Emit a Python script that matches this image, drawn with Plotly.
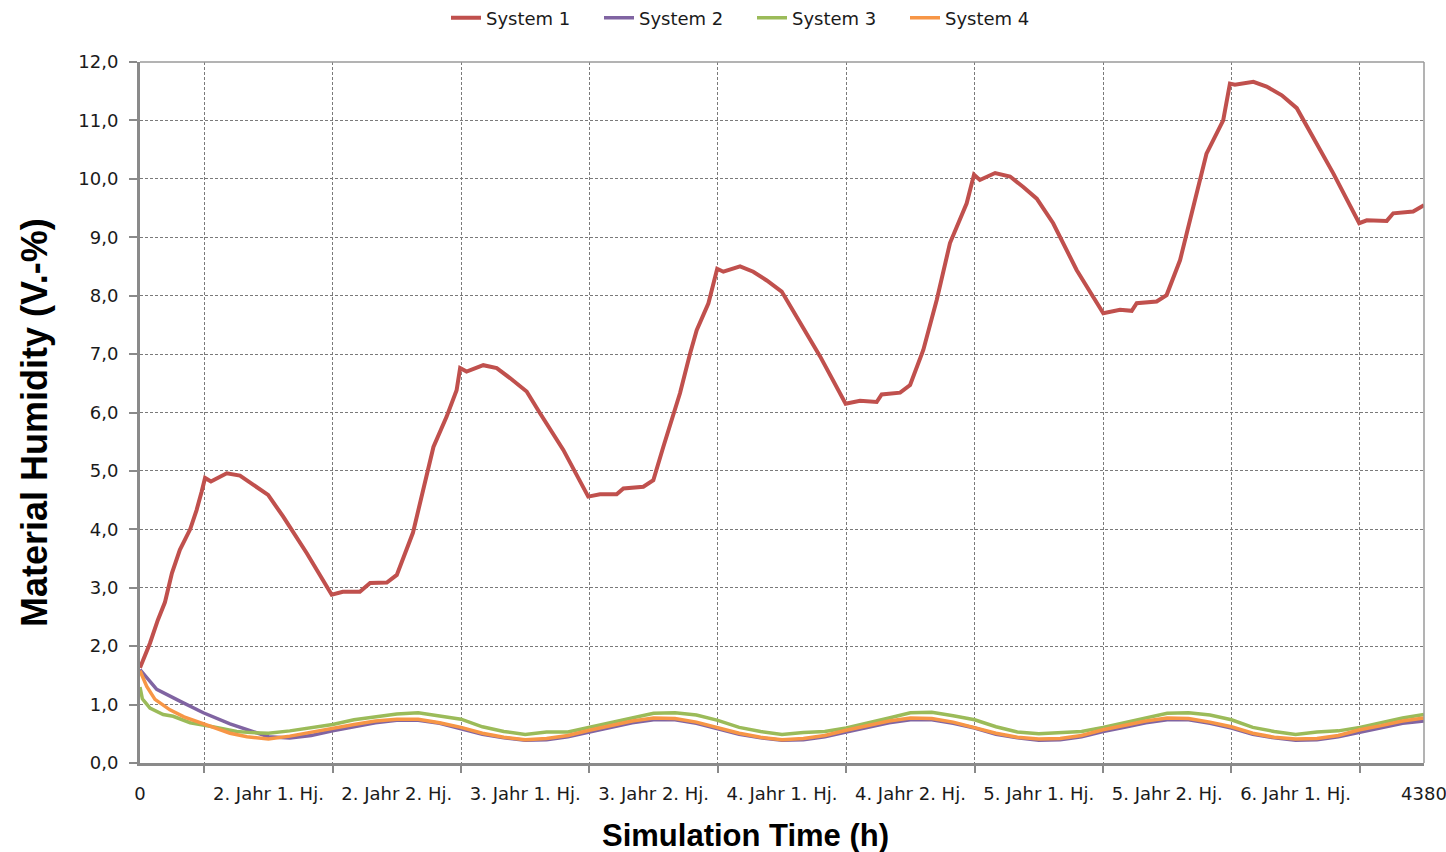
import plotly.graph_objects as go

# ---- data -------------------------------------------------------------
# System 1: material humidity over simulation time
s1_x = [0, 34, 61, 85, 109, 136, 171, 193, 210, 222, 242, 296, 341, 385, 437,
        488, 569, 654, 692, 750, 785, 842, 876, 931, 1001, 1046, 1080, 1092,
        1114, 1171, 1217, 1262, 1319, 1364, 1444, 1529, 1569, 1626, 1649, 1717,
        1751, 1785, 1819, 1842, 1876, 1899, 1939, 1969, 1990, 2047, 2092, 2138,
        2189, 2240, 2320, 2407, 2456, 2513, 2530, 2593, 2627, 2672, 2718, 2763,
        2820, 2845, 2865, 2917, 2968, 3013, 3059, 3115, 3195, 3286, 3343, 3383,
        3400, 3468, 3502, 3548, 3570, 3593, 3616, 3638, 3695, 3718, 3735, 3798,
        3843, 3895, 3946, 4002, 4071, 4159, 4185, 4253, 4275, 4343, 4380]
s1_y = [1.63, 2.05, 2.45, 2.75, 3.25, 3.65, 4.00, 4.33, 4.64, 4.88, 4.82, 4.96,
        4.92, 4.76, 4.59, 4.22, 3.59, 2.88, 2.93, 2.93, 3.08, 3.09, 3.22, 3.94,
        5.41, 5.93, 6.38, 6.76, 6.70, 6.81, 6.76, 6.59, 6.36, 5.99, 5.36, 4.56,
        4.60, 4.60, 4.70, 4.73, 4.84, 5.41, 5.93, 6.33, 7.00, 7.41, 7.87, 8.46,
        8.41, 8.50, 8.41, 8.26, 8.07, 7.64, 6.96, 6.15, 6.20, 6.18, 6.31, 6.34,
        6.47, 7.07, 7.93, 8.90, 9.58, 10.07, 9.98, 10.10, 10.04, 9.86, 9.66,
        9.24, 8.44, 7.70, 7.76, 7.74, 7.87, 7.90, 8.01, 8.61, 9.07, 9.49, 9.98,
        10.43, 11.00, 11.63, 11.61, 11.66, 11.58, 11.43, 11.21, 10.72, 10.09,
        9.24, 9.29, 9.28, 9.41, 9.44, 9.55]

# shared time grid for the seasonal part of systems 2-4
low_x = [438, 511, 584, 657, 730, 803, 876, 949, 1022, 1095, 1168, 1241,
         1314, 1387, 1460, 1533, 1606, 1679, 1752, 1825, 1898, 1971, 2044, 2117,
         2190, 2263, 2336, 2409, 2482, 2555, 2628, 2701, 2774, 2847, 2920, 2993,
         3066, 3139, 3212, 3285, 3358, 3431, 3504, 3577, 3650, 3723, 3796, 3869,
         3942, 4015, 4088, 4161, 4234, 4307, 4380]

s2_x = [0, 57, 136, 216, 307, 380] + low_x
s2_y = [1.60, 1.26, 1.06, 0.86, 0.67, 0.54,
        0.45, 0.43, 0.47, 0.55, 0.62, 0.69, 0.73, 0.73, 0.68, 0.59, 0.49, 0.43,
        0.39, 0.40, 0.45, 0.53, 0.61, 0.69, 0.74, 0.74, 0.68, 0.59, 0.49, 0.43,
        0.39, 0.40, 0.45, 0.53, 0.61, 0.69, 0.74, 0.74, 0.68, 0.60, 0.49, 0.43,
        0.39, 0.40, 0.45, 0.54, 0.61, 0.69, 0.74, 0.74, 0.68, 0.60, 0.49, 0.43,
        0.39, 0.40, 0.45, 0.53, 0.61, 0.68, 0.72]

s3_x = [0, 8, 34, 79, 113, 171, 239, 330, 380] + low_x
s3_y = [1.30, 1.10, 0.94, 0.83, 0.80, 0.69, 0.63, 0.54, 0.52,
        0.51, 0.55, 0.61, 0.66, 0.74, 0.79, 0.84, 0.86, 0.81, 0.75, 0.62, 0.54,
        0.49, 0.53, 0.53, 0.61, 0.69, 0.78, 0.85, 0.86, 0.82, 0.73, 0.61, 0.54,
        0.49, 0.52, 0.54, 0.60, 0.68, 0.77, 0.86, 0.87, 0.81, 0.74, 0.62, 0.53,
        0.50, 0.52, 0.54, 0.61, 0.69, 0.78, 0.85, 0.86, 0.82, 0.74, 0.61, 0.54,
        0.49, 0.53, 0.55, 0.61, 0.69, 0.77, 0.83]

s4_x = [0, 23, 51, 102, 150, 193, 250, 307, 365] + low_x
s4_y = [1.58, 1.31, 1.09, 0.91, 0.79, 0.71, 0.60, 0.51, 0.45,
        0.41, 0.46, 0.53, 0.60, 0.66, 0.72, 0.75, 0.75, 0.69, 0.61, 0.51, 0.44,
        0.40, 0.42, 0.47, 0.56, 0.64, 0.72, 0.77, 0.76, 0.70, 0.61, 0.51, 0.44,
        0.40, 0.42, 0.47, 0.56, 0.64, 0.72, 0.77, 0.76, 0.70, 0.61, 0.51, 0.44,
        0.41, 0.42, 0.47, 0.57, 0.64, 0.72, 0.77, 0.76, 0.70, 0.62, 0.51, 0.44,
        0.41, 0.42, 0.47, 0.57, 0.64, 0.72, 0.77]

series_names = ["System 1", "System 2", "System 3", "System 4"]

# x-axis labels (half-year steps) and gridline positions between them
label_vals = [0, 438, 876, 1314, 1752, 2190, 2628, 3066, 3504, 3942, 4380]
label_text = ["0", "2. Jahr 1. Hj.", "2. Jahr 2. Hj.", "3. Jahr 1. Hj.",
              "3. Jahr 2. Hj.", "4. Jahr 1. Hj.", "4. Jahr 2. Hj.",
              "5. Jahr 1. Hj.", "5. Jahr 2. Hj.", "6. Jahr 1. Hj.", "4380"]
grid_vals = [219, 657, 1095, 1533, 1971, 2409, 2847, 3285, 3723, 4161]

# ---- figure -----------------------------------------------------------
colors = ["#C0504D", "#8064A2", "#9BBB59", "#F79646"]
widths = [4, 3.5, 3.5, 3.5]
xs = [s1_x, s2_x, s3_x, s4_x]
ys = [s1_y, s2_y, s3_y, s4_y]

fig = go.Figure()
for name, x, y, c, w in zip(series_names, xs, ys, colors, widths):
    fig.add_trace(go.Scatter(x=x, y=y, mode="lines", name=name,
                             line=dict(color=c, width=w)))

tick_font = dict(family="DejaVu Sans", size=18, color="#1a1a1a")
axis_grey = "#8a8a8a"
grid_grey = "#7a7a7a"

fig.update_layout(
    width=1446, height=852,
    margin=dict(l=140, r=22, t=62, b=89, autoexpand=False),
    paper_bgcolor="white", plot_bgcolor="white",
    separators=",.",
    showlegend=True,
    legend=dict(orientation="h", x=(752 - 140) / 1284, xanchor="center",
                y=(763 - 18) / 701, yanchor="middle",
                font=dict(family="DejaVu Sans", size=18, color="#1a1a1a"),
                entrywidth=108, entrywidthmode="pixels",
                bgcolor="rgba(0,0,0,0)"),
    xaxis=dict(range=[0, 4380], tickmode="array", tickvals=label_vals,
               ticktext=label_text, ticks="", showgrid=False, zeroline=False,
               showline=True, linecolor=axis_grey, linewidth=3,
               tickfont=tick_font, ticklabelstandoff=12,
               ticklabeloverflow="allow",
               minor=dict(tickmode="array", tickvals=grid_vals, showgrid=True,
                          gridcolor=grid_grey, griddash="3px,2px", gridwidth=1,
                          ticks="outside", ticklen=7, tickcolor=axis_grey,
                          tickwidth=1.5)),
    yaxis=dict(range=[0, 12], tickmode="linear", tick0=0, dtick=1,
               tickformat=".1f", showgrid=True, gridcolor=grid_grey,
               griddash="3px,2px", gridwidth=1, zeroline=False,
               showline=True, linecolor=axis_grey, linewidth=3,
               ticks="outside", ticklen=8, tickcolor=axis_grey, tickwidth=1.5,
               tickfont=tick_font, ticklabelstandoff=7),
)

# thin frame on the top and right of the plot area
for x0, y0, x1, y1 in [(0, 1, 1, 1), (1, 0, 1, 1)]:
    fig.add_shape(type="line", xref="paper", yref="paper",
                  x0=x0, y0=y0, x1=x1, y1=y1,
                  line=dict(color="#9a9a9a", width=1.5), layer="above")

# axis titles
fig.add_annotation(text="<b>Material Humidity (V.-%)</b>", textangle=-90,
                   xref="paper", yref="paper",
                   x=(34 - 140) / 1284, y=(763 - 423) / 701,
                   xanchor="center", yanchor="middle", showarrow=False,
                   font=dict(family="Liberation Sans", size=36, color="black"))
fig.add_annotation(text="<b>Simulation Time (h)</b>",
                   xref="paper", yref="paper",
                   x=(745 - 140) / 1284, y=(763 - 835) / 701,
                   xanchor="center", yanchor="middle", showarrow=False,
                   font=dict(family="Liberation Sans", size=31, color="black"))

fig.write_html("out.html")
